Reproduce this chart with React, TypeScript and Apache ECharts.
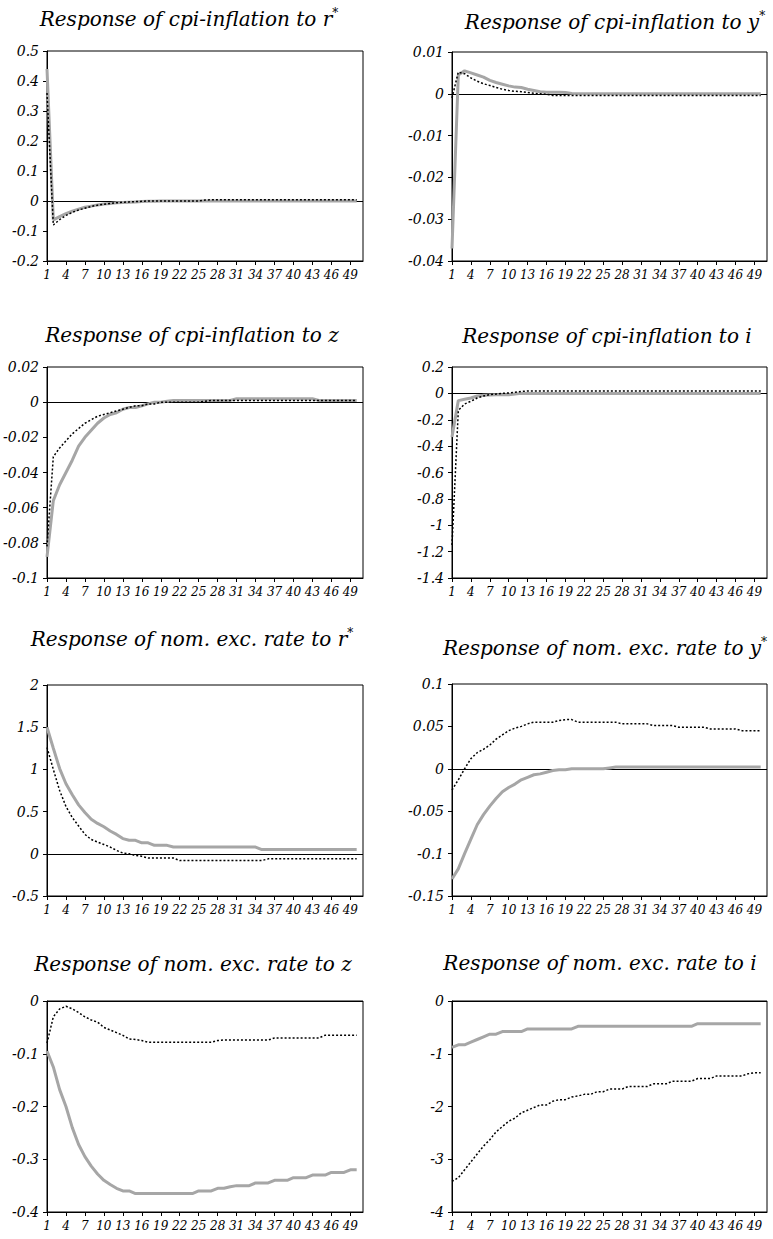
import React, { useEffect, useRef } from "react";
import * as echarts from "echarts";

const periods = ["1","2","3","4","5","6","7","8","9","10","11","12","13","14","15","16","17","18","19","20","21","22","23","24","25","26","27","28","29","30","31","32","33","34","35","36","37","38","39","40","41","42","43","44","45","46","47","48","49","50","51"];

// Response of cpi-inflation to r*
const cpiRGray = [0.44,-0.063,-0.052,-0.042,-0.034,-0.027,-0.021,-0.017,-0.013,-0.01,-0.008,-0.006,-0.005,-0.004,-0.003,-0.002,-0.001,-0.001,0,0,0,0,0,0,0,0,0,0,0,0,0,0,0,0,0,0,0,0,0,0,0,0,0,0,0,0,0,0,0,0];
const cpiRDot = [0.36,-0.08,-0.062,-0.048,-0.038,-0.03,-0.024,-0.018,-0.014,-0.011,-0.008,-0.006,-0.004,-0.003,-0.002,-0.001,0,0,0,0,0,0,0,0,0,0.003,0.004,0.004,0.004,0.004,0.004,0.004,0.004,0.004,0.004,0.004,0.004,0.004,0.004,0.004,0.004,0.004,0.004,0.004,0.004,0.004,0.004,0.004,0.004,0.004];

// Response of cpi-inflation to y*
const cpiYGray = [-0.037,0.0045,0.0055,0.005,0.0045,0.004,0.0032,0.0027,0.0023,0.0019,0.0016,0.0015,0.0011,0.0008,0.0005,0.0004,0.0004,0.0004,0.0003,0.0001,0,0,0,0,0,0,0,0,0,0,0,0,0,0,0,0,0,0,0,0,0,0,0,0,0,0,0,0,0,0];
const cpiYDot = [-0.001,0.0052,0.0048,0.0038,0.003,0.0024,0.002,0.0015,0.0011,0.0008,0.0006,0.0005,0.0003,0.0001,0,-0.0001,-0.0004,-0.0004,-0.0004,-0.0004,-0.0004,-0.0004,-0.0004,-0.0004,-0.0004,-0.0004,-0.0004,-0.0004,-0.0004,-0.0004,-0.0004,-0.0004,-0.0004,-0.0004,-0.0004,-0.0004,-0.0004,-0.0004,-0.0004,-0.0004,-0.0004,-0.0004,-0.0004,-0.0004,-0.0004,-0.0004,-0.0004,-0.0004,-0.0004,-0.0004];

// Response of cpi-inflation to z
const cpiZGray = [-0.088,-0.056,-0.047,-0.04,-0.033,-0.025,-0.02,-0.016,-0.012,-0.009,-0.007,-0.006,-0.004,-0.003,-0.003,-0.002,-0.001,0,0,0.0005,0.001,0.001,0.001,0.001,0.001,0.001,0.001,0.001,0.001,0.001,0.002,0.002,0.002,0.002,0.002,0.002,0.002,0.002,0.002,0.002,0.002,0.002,0.002,0.001,0.001,0.001,0.001,0.001,0.001,0.001];
const cpiZDot = [-0.082,-0.031,-0.026,-0.022,-0.018,-0.015,-0.012,-0.01,-0.008,-0.007,-0.006,-0.005,-0.004,-0.003,-0.002,-0.002,-0.001,-0.001,0,0,0,0,0,0,0,0.0005,0.001,0.001,0.001,0.001,0.001,0.001,0.001,0.001,0.001,0.001,0.001,0.001,0.001,0.001,0.001,0.001,0.001,0.001,0.001,0.001,0.001,0.001,0.001,0.001];

// Response of cpi-inflation to i
const cpiIGray = [-0.33,-0.055,-0.045,-0.035,-0.02,-0.015,-0.012,-0.01,-0.01,-0.01,-0.005,0,0,0,0,0,0,0,0,0,0,0,0,0,0,0,0,0,0,0,0,0,0,0,0,0,0,0,0,0,0,0,0,0,0,0,0,0,0,0];
const cpiIDot = [-1.15,-0.13,-0.08,-0.06,-0.035,-0.02,-0.01,-0.005,0,0.003,0.008,0.015,0.018,0.018,0.018,0.018,0.018,0.018,0.018,0.018,0.018,0.018,0.018,0.018,0.018,0.018,0.018,0.018,0.018,0.018,0.018,0.018,0.018,0.018,0.018,0.018,0.018,0.018,0.018,0.018,0.018,0.018,0.018,0.018,0.018,0.018,0.018,0.018,0.018,0.018];

// Response of nom. exc. rate to r*
const excRGray = [1.5,1.25,1.01,0.83,0.7,0.58,0.49,0.41,0.36,0.32,0.27,0.23,0.18,0.16,0.16,0.13,0.13,0.1,0.1,0.1,0.08,0.08,0.08,0.08,0.08,0.08,0.08,0.08,0.08,0.08,0.08,0.08,0.08,0.08,0.05,0.05,0.05,0.05,0.05,0.05,0.05,0.05,0.05,0.05,0.05,0.05,0.05,0.05,0.05,0.05];
const excRDot = [1.26,1.0,0.75,0.56,0.43,0.33,0.23,0.17,0.14,0.11,0.08,0.04,0.01,0,-0.02,-0.03,-0.05,-0.05,-0.05,-0.05,-0.05,-0.08,-0.08,-0.08,-0.08,-0.08,-0.08,-0.08,-0.08,-0.08,-0.08,-0.08,-0.08,-0.08,-0.08,-0.06,-0.06,-0.06,-0.06,-0.06,-0.06,-0.06,-0.06,-0.06,-0.06,-0.06,-0.06,-0.06,-0.06,-0.06];

// Response of nom. exc. rate to y*
const excYGray = [-0.13,-0.118,-0.1,-0.083,-0.066,-0.054,-0.044,-0.035,-0.027,-0.022,-0.018,-0.013,-0.01,-0.007,-0.006,-0.004,-0.002,-0.001,-0.001,0,0,0,0,0,0,0.001,0.002,0.002,0.002,0.002,0.002,0.002,0.002,0.002,0.002,0.002,0.002,0.002,0.002,0.002,0.002,0.002,0.002,0.002,0.002,0.002,0.002,0.002,0.002,0.002];
const excYDot = [-0.025,-0.013,0,0.012,0.019,0.023,0.028,0.035,0.04,0.045,0.048,0.05,0.053,0.055,0.055,0.055,0.055,0.057,0.058,0.058,0.055,0.055,0.055,0.055,0.055,0.055,0.055,0.053,0.053,0.053,0.053,0.053,0.051,0.051,0.051,0.051,0.049,0.049,0.049,0.049,0.049,0.047,0.047,0.047,0.047,0.047,0.045,0.045,0.045,0.045];

// Response of nom. exc. rate to z
const excZGray = [-0.095,-0.125,-0.168,-0.2,-0.24,-0.272,-0.295,-0.313,-0.328,-0.34,-0.348,-0.355,-0.36,-0.36,-0.365,-0.365,-0.365,-0.365,-0.365,-0.365,-0.365,-0.365,-0.365,-0.365,-0.36,-0.36,-0.36,-0.355,-0.355,-0.352,-0.35,-0.35,-0.35,-0.345,-0.345,-0.345,-0.34,-0.34,-0.34,-0.335,-0.335,-0.335,-0.33,-0.33,-0.33,-0.325,-0.325,-0.325,-0.32,-0.32];
const excZDot = [-0.08,-0.03,-0.015,-0.01,-0.015,-0.022,-0.03,-0.036,-0.04,-0.05,-0.055,-0.06,-0.065,-0.072,-0.073,-0.075,-0.078,-0.078,-0.078,-0.078,-0.078,-0.078,-0.078,-0.078,-0.078,-0.078,-0.078,-0.075,-0.074,-0.074,-0.074,-0.074,-0.074,-0.074,-0.074,-0.074,-0.07,-0.07,-0.07,-0.07,-0.07,-0.07,-0.07,-0.07,-0.065,-0.065,-0.065,-0.065,-0.065,-0.065];

// Response of nom. exc. rate to i
const excIGray = [-0.88,-0.83,-0.83,-0.78,-0.73,-0.68,-0.63,-0.63,-0.58,-0.58,-0.58,-0.58,-0.53,-0.53,-0.53,-0.53,-0.53,-0.53,-0.53,-0.53,-0.48,-0.48,-0.48,-0.48,-0.48,-0.48,-0.48,-0.48,-0.48,-0.48,-0.48,-0.48,-0.48,-0.48,-0.48,-0.48,-0.48,-0.48,-0.48,-0.43,-0.43,-0.43,-0.43,-0.43,-0.43,-0.43,-0.43,-0.43,-0.43,-0.43];
const excIDot = [-3.42,-3.35,-3.2,-3.05,-2.9,-2.75,-2.63,-2.48,-2.38,-2.28,-2.22,-2.12,-2.07,-2.02,-1.97,-1.97,-1.9,-1.87,-1.87,-1.82,-1.8,-1.77,-1.77,-1.72,-1.72,-1.67,-1.67,-1.67,-1.62,-1.62,-1.62,-1.62,-1.57,-1.57,-1.57,-1.52,-1.52,-1.52,-1.52,-1.47,-1.47,-1.47,-1.42,-1.42,-1.42,-1.42,-1.42,-1.38,-1.36,-1.36];

const titles = [
  "Response of cpi-inflation to r",
  "Response of cpi-inflation to y",
  "Response of cpi-inflation to z",
  "Response of cpi-inflation to i",
  "Response of nom. exc. rate to r",
  "Response of nom. exc. rate to y",
  "Response of nom. exc. rate to z",
  "Response of nom. exc. rate to i",
];
const titleStars = [true, true, false, false, true, true, false, false];
const yMins = [-0.2, -0.04, -0.1, -1.4, -0.5, -0.15, -0.4, -4];
const yMaxs = [0.5, 0.01, 0.02, 0.2, 2, 0.1, 0, 0];
const yIntervals = [0.1, 0.01, 0.02, 0.2, 0.5, 0.05, 0.1, 1];
const grayData = [cpiRGray, cpiYGray, cpiZGray, cpiIGray, excRGray, excYGray, excZGray, excIGray];
const dotData = [cpiRDot, cpiYDot, cpiZDot, cpiIDot, excRDot, excYDot, excZDot, excIDot];

// layout (pixels)
const grids = [
  { left: 47, top: 51, width: 316, height: 210 },
  { left: 452, top: 52, width: 315, height: 209 },
  { left: 47, top: 367, width: 316, height: 211 },
  { left: 452, top: 367, width: 315, height: 211 },
  { left: 47, top: 685, width: 316, height: 211 },
  { left: 452, top: 684, width: 315, height: 212 },
  { left: 47, top: 1001, width: 316, height: 211 },
  { left: 452, top: 1001, width: 315, height: 211 },
];
// title centre (x) and middle of text line (y)
const titlePos = [
  [189, 18], [615, 21], [192, 334], [607, 335],
  [192, 638], [605, 647], [193, 963], [600, 962],
];

const FONT = "DejaVu Serif";

function fmt(v: number) {
  return String(+v.toFixed(4));
}

export default function App() {
  const ref = useRef<HTMLDivElement>(null);
  useEffect(() => {
    document.body.style.margin = "0";
    if (!ref.current) return;
    const chart = echarts.init(ref.current, undefined, { renderer: "svg" });
    const series: any[] = [];
    grayData.forEach((g, i) => {
      series.push({
        type: "line",
        xAxisIndex: i,
        yAxisIndex: i,
        data: g,
        symbol: "none",
        lineStyle: { color: "#a6a6a6", width: 3 },
        z: 3,
        markLine: {
          silent: true,
          symbol: "none",
          label: { show: false },
          lineStyle: { color: "#000", width: 1, type: "solid" },
          data: [{ yAxis: 0 }],
          z: 2,
        },
      });
      series.push({
        type: "line",
        xAxisIndex: i,
        yAxisIndex: i,
        data: dotData[i],
        symbol: "none",
        lineStyle: { color: "#000", width: 1.5, type: [2, 2] },
        z: 4,
      });
    });
    const graphic = titles.map((t, i) => ({
      type: "text",
      x: titlePos[i][0],
      y: titlePos[i][1],
      style: {
        text: titleStars[i] ? `{t|${t}}{s|*}` : `{t|${t}}`,
        align: "center",
        verticalAlign: "middle",
        rich: {
          t: { fontFamily: FONT, fontStyle: "italic", fontSize: 20, fill: "#000", verticalAlign: "bottom", lineHeight: 22 },
          s: { fontFamily: FONT, fontStyle: "italic", fontSize: 12, fill: "#000", verticalAlign: "top", lineHeight: 10 },
        },
      },
    }));
    chart.setOption({
      animation: false,
      backgroundColor: "#fff",
      grid: grids.map((g) => ({ ...g, show: true, borderColor: "#000", borderWidth: 1, backgroundColor: "transparent" })),
      xAxis: grids.map((_, i) => ({
        type: "category",
        gridIndex: i,
        data: periods,
        boundaryGap: false,
        axisLine: { onZero: false, lineStyle: { color: "#000", width: 1 } },
        axisTick: { show: true, interval: 2, length: 4, lineStyle: { color: "#000" } },
        axisLabel: { interval: 2, fontFamily: FONT, fontStyle: "italic", fontSize: 12, color: "#000", margin: 8 },
        splitLine: { show: false },
      })),
      yAxis: grids.map((_, i) => ({
        type: "value",
        gridIndex: i,
        min: yMins[i],
        max: yMaxs[i],
        interval: yIntervals[i],
        axisLine: { show: true, onZero: false, lineStyle: { color: "#000", width: 1 } },
        axisTick: { show: true, length: 4, lineStyle: { color: "#000" } },
        axisLabel: { fontFamily: FONT, fontStyle: "italic", fontSize: 14, color: "#000", margin: 8, formatter: fmt },
        splitLine: { show: false },
      })),
      series,
      graphic,
    });
    return () => chart.dispose();
  }, []);
  return <div ref={ref} style={{ width: 773, height: 1239 }} />;
}
